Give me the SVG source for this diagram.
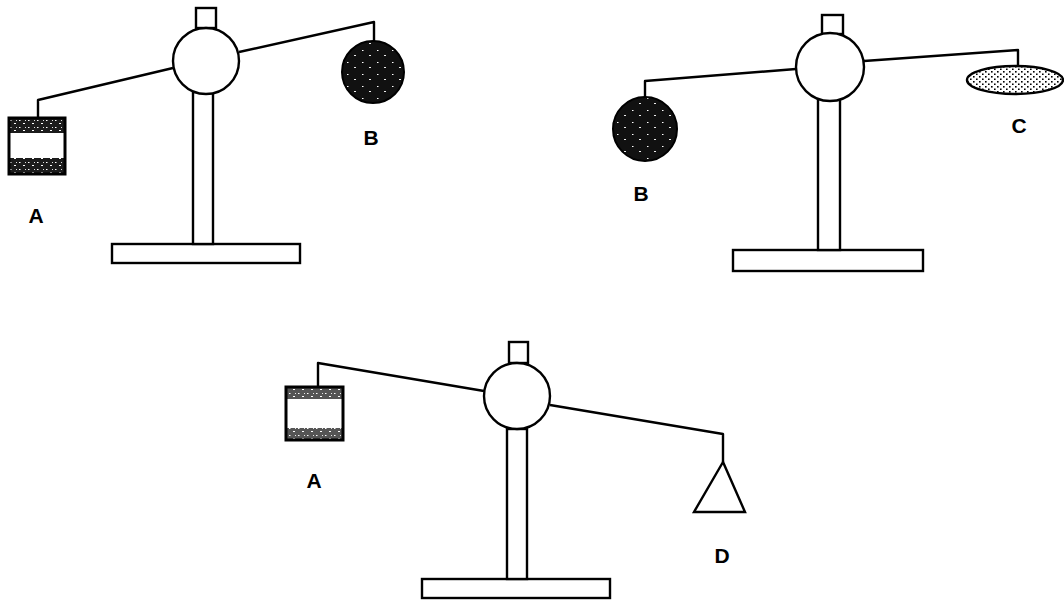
<svg xmlns="http://www.w3.org/2000/svg" width="1064" height="602" viewBox="0 0 1064 602">
<style>
.ln{fill:none;stroke:#000;stroke-width:2.4;stroke-linejoin:round}
.sh{fill:#fff;stroke:#000;stroke-width:2.4}
.lbl{font-family:"Liberation Sans",Arial,sans-serif;font-weight:bold;font-size:21px;fill:#000;text-anchor:middle}
</style>
<defs>
<pattern id="speck" width="9" height="7" patternUnits="userSpaceOnUse">
<rect width="9" height="7" fill="#1c1c1c"/>
<rect x="1" y="1" width="1.5" height="1" fill="#fff"/>
<rect x="5" y="4" width="2" height="1" fill="#fff"/>
<rect x="7" y="1" width="1" height="1" fill="#ddd"/>
</pattern>
<pattern id="ball" width="15" height="12" patternUnits="userSpaceOnUse">
<rect width="15" height="12" fill="#111"/>
<rect x="2" y="2" width="1.5" height="1" fill="#fff"/>
<rect x="9" y="7" width="2" height="1" fill="#eee"/>
</pattern>
<pattern id="dots" width="6" height="5" patternUnits="userSpaceOnUse">
<rect width="6" height="5" fill="#fff"/>
<rect x="1" y="1" width="1.6" height="1.6" fill="#000"/>
<rect x="4" y="3.5" width="1.6" height="1.6" fill="#000"/>
</pattern>
</defs>

<g id="stand1">
<rect class="sh" x="112" y="244" width="188" height="19"/>
<rect class="sh" x="193" y="92" width="20" height="152"/>
<rect class="sh" x="196" y="8" width="20" height="20"/>
<circle class="sh" cx="206" cy="61" r="33"/>
</g>
<g id="stand2">
<rect class="sh" x="733" y="250" width="190" height="21"/>
<rect class="sh" x="818" y="99" width="22" height="151"/>
<rect class="sh" x="822" y="15" width="21" height="19"/>
<circle class="sh" cx="830" cy="67" r="34"/>
</g>
<g id="stand3">
<rect class="sh" x="422" y="579" width="188" height="19"/>
<rect class="sh" x="507" y="429" width="20" height="150"/>
<rect class="sh" x="509" y="342" width="19" height="21"/>
<circle class="sh" cx="517" cy="396" r="33"/>
</g>

<g id="connectors">
<polyline class="ln" points="173,68 38,100 38,118"/>
<polyline class="ln" points="239,52 374,22 374,41"/>
<polyline class="ln" points="796,69 645,81 645,97"/>
<polyline class="ln" points="864,61 1018,50 1018,66"/>
<polyline class="ln" points="484,391 318,363 318,387"/>
<polyline class="ln" points="550,405 723,434 723,462"/>
</g>

<g id="objA1">
<rect x="9" y="118" width="56" height="56" fill="#fff"/>
<rect x="9" y="118" width="56" height="15" fill="url(#speck)"/>
<rect x="9" y="158" width="56" height="16" fill="url(#speck)"/>
<rect x="9" y="118" width="56" height="56" fill="none" stroke="#000" stroke-width="3"/>
</g>
<g id="objB1">
<circle cx="373" cy="72" r="31" fill="url(#ball)" stroke="#000" stroke-width="2"/>
</g>
<g id="objB2">
<circle cx="645" cy="129" r="32" fill="url(#ball)" stroke="#000" stroke-width="2"/>
</g>
<g id="objC">
<ellipse cx="1015" cy="80" rx="48" ry="14" fill="url(#dots)" stroke="#000" stroke-width="2.4"/>
</g>
<g id="objA3">
<rect x="286" y="387" width="57" height="53" fill="#fff"/>
<rect x="286" y="387" width="57" height="12" fill="url(#speck)" opacity="0.75"/>
<rect x="286" y="428" width="57" height="12" fill="url(#speck)" opacity="0.75"/>
<rect x="286" y="387" width="57" height="53" fill="none" stroke="#000" stroke-width="3"/>
</g>
<g id="objD">
<polygon class="sh" points="723,462 694,512 745,512"/>
</g>

<g id="labels">
<text class="lbl" x="36" y="223">A</text>
<text class="lbl" x="371" y="145">B</text>
<text class="lbl" x="641" y="201">B</text>
<text class="lbl" x="1019" y="133">C</text>
<text class="lbl" x="314" y="488">A</text>
<text class="lbl" x="722" y="563">D</text>
</g>
</svg>
